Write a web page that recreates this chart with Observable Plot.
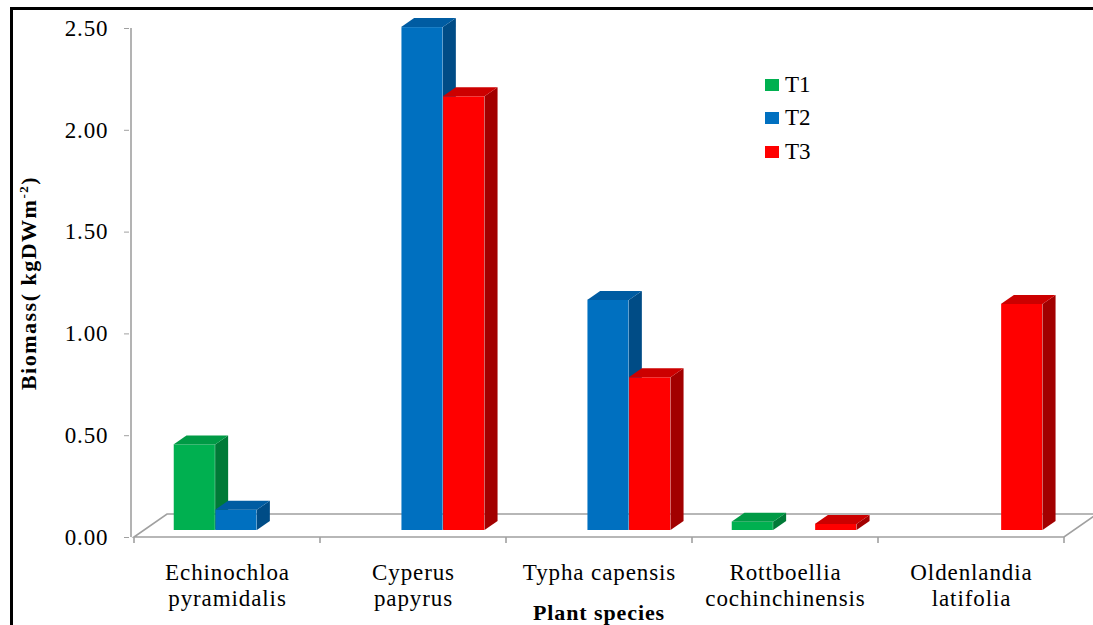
<!DOCTYPE html>
<html>
<head>
<meta charset="utf-8">
<script src="https://cdn.jsdelivr.net/npm/d3@7"></script>
<script src="https://cdn.jsdelivr.net/npm/@observablehq/plot@0.6"></script>
<style>
  html, body { margin: 0; padding: 0; background: #fff; }
  #wrap { position: relative; width: 1093px; height: 625px; overflow: hidden; font-family: "Liberation Serif", serif; color: #000; }
  #border { position: absolute; left: 10px; top: 7px; right: -5px; bottom: -5px; border-left: 3px solid #000; border-top: 3px solid #000; pointer-events: none; }
  #chart { position: absolute; left: 0; top: 0; }
  #chart svg text { letter-spacing: 0.9px; }
  #ylabel { position: absolute; left: 29px; top: 283px; transform: translate(-50%, -50%) rotate(-90deg); white-space: nowrap; font-weight: bold; font-size: 22px; letter-spacing: 1.5px; }
  #ylabel sup { font-size: 13px; vertical-align: 8px; line-height: 0; }
  .lg-sw { position: absolute; width: 14px; height: 12px; }
  .lg-tx { position: absolute; font-size: 23px; line-height: 23px; }
</style>
</head>
<body>
<div id="wrap">
  <div id="chart"></div>
  <div id="ylabel">Biomass( kgDWm<sup>-2</sup>)</div>
  <div id="legend"></div>
  <div id="border"></div>
</div>
<script>
// ---------- data ----------
const species = ["Echinochloa pyramidalis", "Cyperus papyrus", "Typha capensis", "Rottboellia cochinchinensis", "Oldenlandia latifolia"];
const speciesLabels = ["Echinochloa\npyramidalis", "Cyperus\npapyrus", "Typha capensis", "Rottboellia\ncochinchinensis", "Oldenlandia\nlatifolia"];
const seriesNames = ["T1", "T2", "T3"];
const t1 = [0.42, null, null, 0.04, null];
const t2 = [0.10, 2.47, 1.13, null, null];
const t3 = [null, 2.13, 0.75, 0.03, 1.11];
const yTicks = [0, 0.5, 1, 1.5, 2, 2.5];
const xTitle = "Plant species";

// ---------- styles / layout ----------
const palette = {
  T1: { front: "#00B050", top: "#009A45", side: "#007A37" },
  T2: { front: "#0070C0", top: "#005CA2", side: "#004C86" },
  T3: { front: "#FF0000", top: "#CC0000", side: "#A20000" }
};
const W = 1093, H = 625;
const mL = 132, mR = 28, mT = 28, mB = 88;
const bandW = (W - mL - mR) / species.length;
const barW = bandW * 0.2235;
const inset = (bandW - barW) / 2;
const planeDx = 9, planeDy = -7;      // bar plane shift inside floor depth
const barDx = 13, barDy = -9;         // bar depth
const floorDx = 33, floorDy = -23;    // floor depth
const axisColor = "#A0A0A0";

const seriesValues = [t1, t2, t3];
const rowsFor = (arr) => species.map((s, i) => ({ species: s, value: arr[i] })).filter(d => d.value != null && d.value > 0);

function floorMark(index, scales, values, dims) {
  const x = scales.x, y = scales.y;
  const bw = x.bandwidth ? x.bandwidth() : bandW;
  const x0 = x(species[0]), x1 = x(species[species.length - 1]) + bw;
  const y0 = y(0), yTop = y(yTicks[yTicks.length - 1]);
  const g = d3.create("svg:g").attr("fill", "none").attr("stroke", axisColor).attr("stroke-width", 1.6);
  // floor
  g.append("path").attr("d", `M${x0},${y0}L${x1},${y0}L${x1 + floorDx},${y0 + floorDy}L${x0 + floorDx},${y0 + floorDy}Z`).attr("fill", "#fff");
  // y axis line
  g.append("line").attr("x1", x0 - 3).attr("x2", x0 - 3).attr("y1", yTop).attr("y2", y0);
  // x category ticks at band boundaries
  const bounds = species.map(s => x(s)).concat([x1]);
  for (const b of bounds) g.append("line").attr("x1", b).attr("x2", b).attr("y1", y0).attr("y2", y0 + 6);
  return g.node();
}

function facesMark(rows, col, k) {
  return (index, scales, values, dims) => {
    const x = scales.x, y = scales.y;
    const bw = x.bandwidth ? x.bandwidth() : bandW;
    const g = d3.create("svg:g");
    for (const d of rows) {
      const xL = x(d.species) + bw / 2 + planeDx + (k - 1) * barW - barW / 2;
      const xR = xL + barW;
      const yT = y(d.value) + planeDy, yB = y(0) + planeDy;
      g.append("polygon")
        .attr("points", [[xR, yT], [xR + barDx, yT + barDy], [xR + barDx, yB + barDy], [xR, yB]].map(p => p.join(",")).join(" "))
        .attr("fill", col.side);
      g.append("polygon")
        .attr("points", [[xL, yT], [xR, yT], [xR + barDx, yT + barDy], [xL + barDx, yT + barDy]].map(p => p.join(",")).join(" "))
        .attr("fill", col.top);
    }
    return g.node();
  };
}

const marks = [floorMark];
seriesNames.forEach((name, k) => {
  const rows = rowsFor(seriesValues[k]);
  const col = palette[name];
  marks.push(Plot.barY(rows, {
    x: "species", y: "value", fill: col.front,
    dx: planeDx + (k - 1) * barW, dy: planeDy,
    insetLeft: inset, insetRight: inset
  }));
  marks.push(facesMark(rows, col, k));
});
marks.push(Plot.axisY(yTicks, {
  tickFormat: d3.format(".2f"), tickSize: 5, tickPadding: 16, dx: -3,
  stroke: axisColor, fill: "#000", fontSize: 23, label: null
}));
marks.push(Plot.text(species, {
  x: d => d, text: (d, i) => speciesLabels[i], frameAnchor: "bottom",
  lineAnchor: "top", dy: 25, lineHeight: 1.1, fontSize: 23, fill: "#000"
}));
marks.push(Plot.text([xTitle], {
  text: d => d, frameAnchor: "bottom", lineAnchor: "middle", dy: 75,
  fontSize: 22, fontWeight: "bold", fill: "#000"
}));

const chart = Plot.plot({
  width: W, height: H,
  marginLeft: mL, marginRight: mR, marginTop: mT, marginBottom: mB,
  x: { type: "band", domain: species, padding: 0, axis: null },
  y: { domain: [0, 2.5], axis: null },
  style: { fontFamily: "Liberation Serif", background: "transparent", color: "#000", overflow: "visible" },
  marks
});
document.getElementById("chart").appendChild(chart);

// legend
const legend = document.getElementById("legend");
const lgTop = [79, 112, 146];
seriesNames.forEach((name, k) => {
  const sw = document.createElement("div");
  sw.className = "lg-sw";
  sw.style.left = "765px";
  sw.style.top = lgTop[k] + "px";
  sw.style.background = palette[name].front;
  legend.appendChild(sw);
  const tx = document.createElement("div");
  tx.className = "lg-tx";
  tx.style.left = "785px";
  tx.style.top = (lgTop[k] + 6 - 12) + "px";
  tx.textContent = name;
  legend.appendChild(tx);
});
</script>
</body>
</html>
